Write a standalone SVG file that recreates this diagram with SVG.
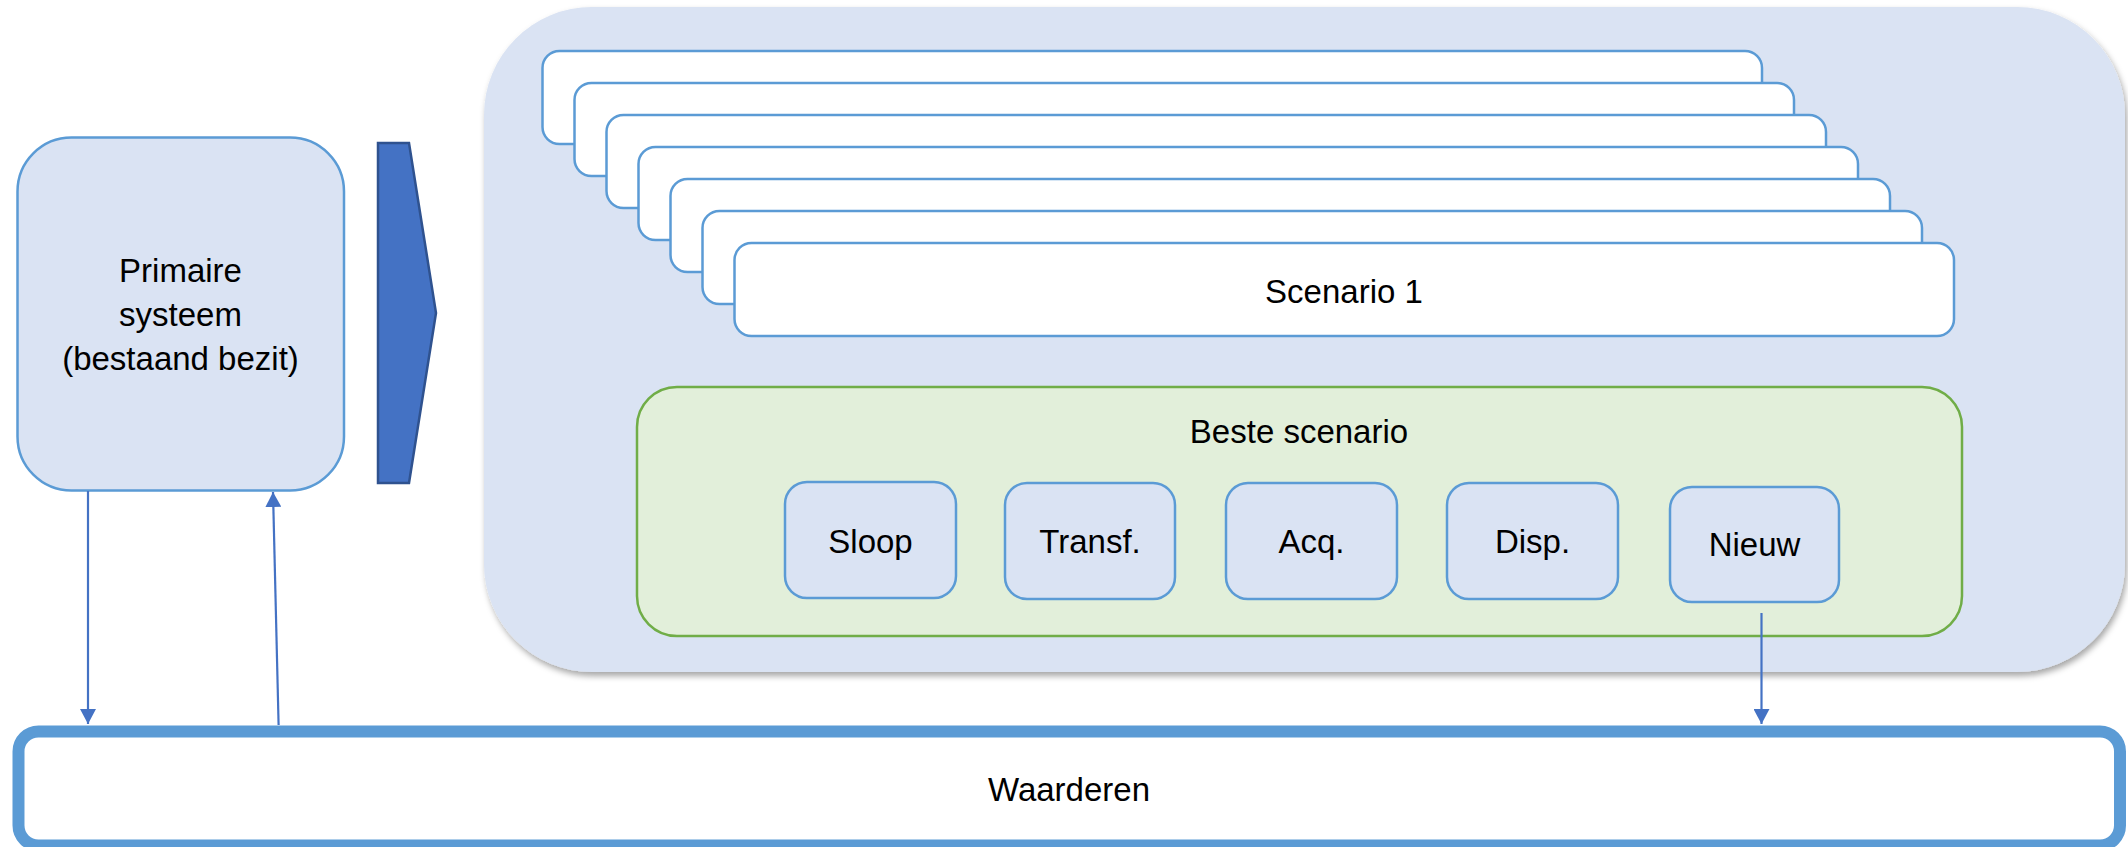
<svg xmlns="http://www.w3.org/2000/svg" width="2128" height="847" viewBox="0 0 2128 847">
<style>
text{font-family:"Liberation Sans",Arial,sans-serif;font-size:33px;fill:#000;text-anchor:middle}
.blue{fill:#dae3f3;stroke:#5b9bd5;stroke-width:2.5}
.card{fill:#fff;stroke:#5b9bd5;stroke-width:2.5}
.conn{stroke:#4472c4;stroke-width:2.2;fill:none;marker-end:url(#ah)}
</style>
<defs>
<marker id="ah" markerUnits="userSpaceOnUse" markerWidth="16" markerHeight="16" refX="15" refY="8" orient="auto">
<path d="M0,0 L15,8 L0,16 z" fill="#4472c4"/>
</marker>
<filter id="sh" x="-5%" y="-5%" width="110%" height="115%">
<feDropShadow dx="2" dy="4" stdDeviation="3" flood-color="#000" flood-opacity="0.35"/>
</filter>
</defs>
<g id="container">
<rect x="484" y="7" width="1641" height="665" rx="108" ry="108" fill="#dae3f3" filter="url(#sh)"/>
</g>
<g id="scenarios">
<rect class="card" x="542.5" y="51" width="1219.5" height="93" rx="17"/>
<rect class="card" x="574.5" y="83" width="1219.5" height="93" rx="17"/>
<rect class="card" x="606.5" y="115" width="1219.5" height="93" rx="17"/>
<rect class="card" x="638.5" y="147" width="1219.5" height="93" rx="17"/>
<rect class="card" x="670.5" y="179" width="1219.5" height="93" rx="17"/>
<rect class="card" x="702.5" y="211" width="1219.5" height="93" rx="17"/>
<rect class="card" x="734.5" y="243" width="1219.5" height="93" rx="17"/>
<text x="1344" y="303">Scenario 1</text>
</g>
<g id="beste">
<rect x="637" y="387" width="1325" height="249" rx="40" fill="#e2efda" stroke="#70ad47" stroke-width="2.5"/>
<text x="1299" y="443">Beste scenario</text>
</g>
<g id="sloop"><rect class="blue" x="785" y="482" width="171" height="116" rx="22"/><text x="870.5" y="553">Sloop</text></g>
<g id="transf"><rect class="blue" x="1005" y="483" width="170" height="116" rx="22"/><text x="1090" y="553">Transf.</text></g>
<g id="acq"><rect class="blue" x="1226" y="483" width="171" height="116" rx="22"/><text x="1311.5" y="553">Acq.</text></g>
<g id="disp"><rect class="blue" x="1447" y="483" width="171" height="116" rx="22"/><text x="1532.5" y="553">Disp.</text></g>
<g id="nieuw"><rect class="blue" x="1670" y="487" width="169" height="115" rx="22"/><text x="1754.5" y="556">Nieuw</text></g>
<g id="primaire">
<rect class="blue" x="17.5" y="137.5" width="326.5" height="353" rx="54"/>
<text x="180.5" y="282">Primaire</text>
<text x="180.5" y="326">systeem</text>
<text x="180.5" y="370">(bestaand bezit)</text>
</g>
<g id="chevron">
<polygon points="378,143 409,143 436,313 409,483 378,483" fill="#4472c4" stroke="#2f528f" stroke-width="2.5"/>
</g>
<g id="waarderen">
<rect x="18.5" y="731.5" width="2101.5" height="114" rx="20" fill="#fff" stroke="#5b9bd5" stroke-width="12"/>
<text x="1069" y="801">Waarderen</text>
</g>
<g id="connectors">
<line class="conn" x1="88" y1="491" x2="88" y2="724"/>
<line class="conn" x1="278.6" y1="725" x2="273" y2="492"/>
<line class="conn" x1="1761.5" y1="613" x2="1761.5" y2="724"/>
</g>
</svg>
